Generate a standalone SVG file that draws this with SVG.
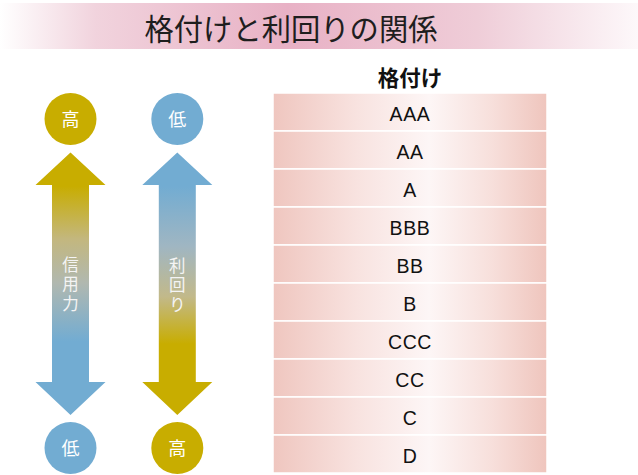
<svg xmlns="http://www.w3.org/2000/svg" width="638" height="475" viewBox="0 0 638 475">
<defs>
<linearGradient id="banner" x1="0" y1="0" x2="1" y2="0">
<stop offset="0" stop-color="#ffffff"/>
<stop offset="0.15" stop-color="#f1d3dd"/>
<stop offset="0.45" stop-color="#e8b1c5"/>
<stop offset="0.75" stop-color="#efcdd8"/>
<stop offset="1" stop-color="#fdf8fa"/>
</linearGradient>
<linearGradient id="row" x1="0" y1="0" x2="1" y2="0">
<stop offset="0" stop-color="#efc6bf"/>
<stop offset="0.3" stop-color="#f8e2df"/>
<stop offset="0.57" stop-color="#fdf6f6"/>
<stop offset="0.8" stop-color="#f7dfdb"/>
<stop offset="1" stop-color="#efc5bd"/>
</linearGradient>
<linearGradient id="g1" gradientUnits="userSpaceOnUse" x1="0" y1="152" x2="0" y2="415">
<stop offset="0" stop-color="#c8ad00"/>
<stop offset="0.13" stop-color="#c8ad00"/>
<stop offset="0.33" stop-color="#c3b77e"/>
<stop offset="0.5" stop-color="#b0b8b0"/>
<stop offset="0.72" stop-color="#72acd2"/>
<stop offset="1" stop-color="#72acd2"/>
</linearGradient>
<linearGradient id="g2" gradientUnits="userSpaceOnUse" x1="0" y1="152" x2="0" y2="415">
<stop offset="0" stop-color="#72acd2"/>
<stop offset="0.13" stop-color="#72acd2"/>
<stop offset="0.36" stop-color="#a0b6c2"/>
<stop offset="0.55" stop-color="#c2b98a"/>
<stop offset="0.73" stop-color="#c8ad00"/>
<stop offset="1" stop-color="#c8ad00"/>
</linearGradient>
<style>
.jp{font-family:"Noto Sans CJK JP","Noto Sans",sans-serif;}
.circ{font-size:18px;fill:#ffffff;text-anchor:middle;}
.vt{font-size:16.5px;fill:#f4f4f4;writing-mode:vertical-rl;letter-spacing:3px;}
.lbl{font-family:"Liberation Sans",Arial,sans-serif;font-size:19.5px;letter-spacing:0.6px;fill:#111111;text-anchor:middle;}
.cell{fill:url(#row);stroke:#ffffff;stroke-width:1.5;}
.gold{fill:#c8ad00;}
.blue{fill:#72acd2;}
</style>
</defs>

<g id="title">
<rect x="0" y="3" width="638" height="46" fill="url(#banner)"/>
<text x="291" y="40" class="jp" font-size="29.3" fill="#1e1e1e" text-anchor="middle">格付けと利回りの関係</text>
</g>

<g id="credit-axis">
<circle cx="70.5" cy="119" r="26" class="gold"/>
<text x="70.5" y="126" class="jp circ">高</text>
<polygon points="70.5,152.5 105.5,185 89,185 89,382 105.5,382 70.5,415 35.5,382 52,382 52,185 35.5,185" fill="url(#g1)"/>
<text class="jp vt" x="70.5" y="256">信用力</text>
<circle cx="70.5" cy="448" r="26" class="blue"/>
<text x="70.5" y="455" class="jp circ">低</text>
</g>

<g id="yield-axis">
<circle cx="177.3" cy="119" r="26" class="blue"/>
<text x="177.3" y="126" class="jp circ">低</text>
<polygon points="177.3,152.5 212.3,185 195.8,185 195.8,382 212.3,382 177.3,415 142.3,382 158.8,382 158.8,185 142.3,185" fill="url(#g2)"/>
<text class="jp vt" x="177.3" y="257">利回り</text>
<circle cx="177.3" cy="448" r="26" class="gold"/>
<text x="177.3" y="455" class="jp circ">高</text>
</g>

<g id="rating-table">
<text x="410" y="86" class="jp" font-size="21.5" font-weight="bold" fill="#111111" text-anchor="middle">格付け</text>
<g id="row-AAA"><rect class="cell" x="273" y="93" width="274" height="38"/><text class="lbl" x="410" y="120.5">AAA</text></g>
<g id="row-AA"><rect class="cell" x="273" y="131" width="274" height="38"/><text class="lbl" x="410" y="158.5">AA</text></g>
<g id="row-A"><rect class="cell" x="273" y="169" width="274" height="38"/><text class="lbl" x="410" y="196.5">A</text></g>
<g id="row-BBB"><rect class="cell" x="273" y="207" width="274" height="38"/><text class="lbl" x="410" y="234.5">BBB</text></g>
<g id="row-BB"><rect class="cell" x="273" y="245" width="274" height="38"/><text class="lbl" x="410" y="272.5">BB</text></g>
<g id="row-B"><rect class="cell" x="273" y="283" width="274" height="38"/><text class="lbl" x="410" y="310.5">B</text></g>
<g id="row-CCC"><rect class="cell" x="273" y="321" width="274" height="38"/><text class="lbl" x="410" y="348.5">CCC</text></g>
<g id="row-CC"><rect class="cell" x="273" y="359" width="274" height="38"/><text class="lbl" x="410" y="386.5">CC</text></g>
<g id="row-C"><rect class="cell" x="273" y="397" width="274" height="38"/><text class="lbl" x="410" y="424.5">C</text></g>
<g id="row-D"><rect class="cell" x="273" y="435" width="274" height="38"/><text class="lbl" x="410" y="462.5">D</text></g>
</g>

<g id="connectors"></g>
</svg>
